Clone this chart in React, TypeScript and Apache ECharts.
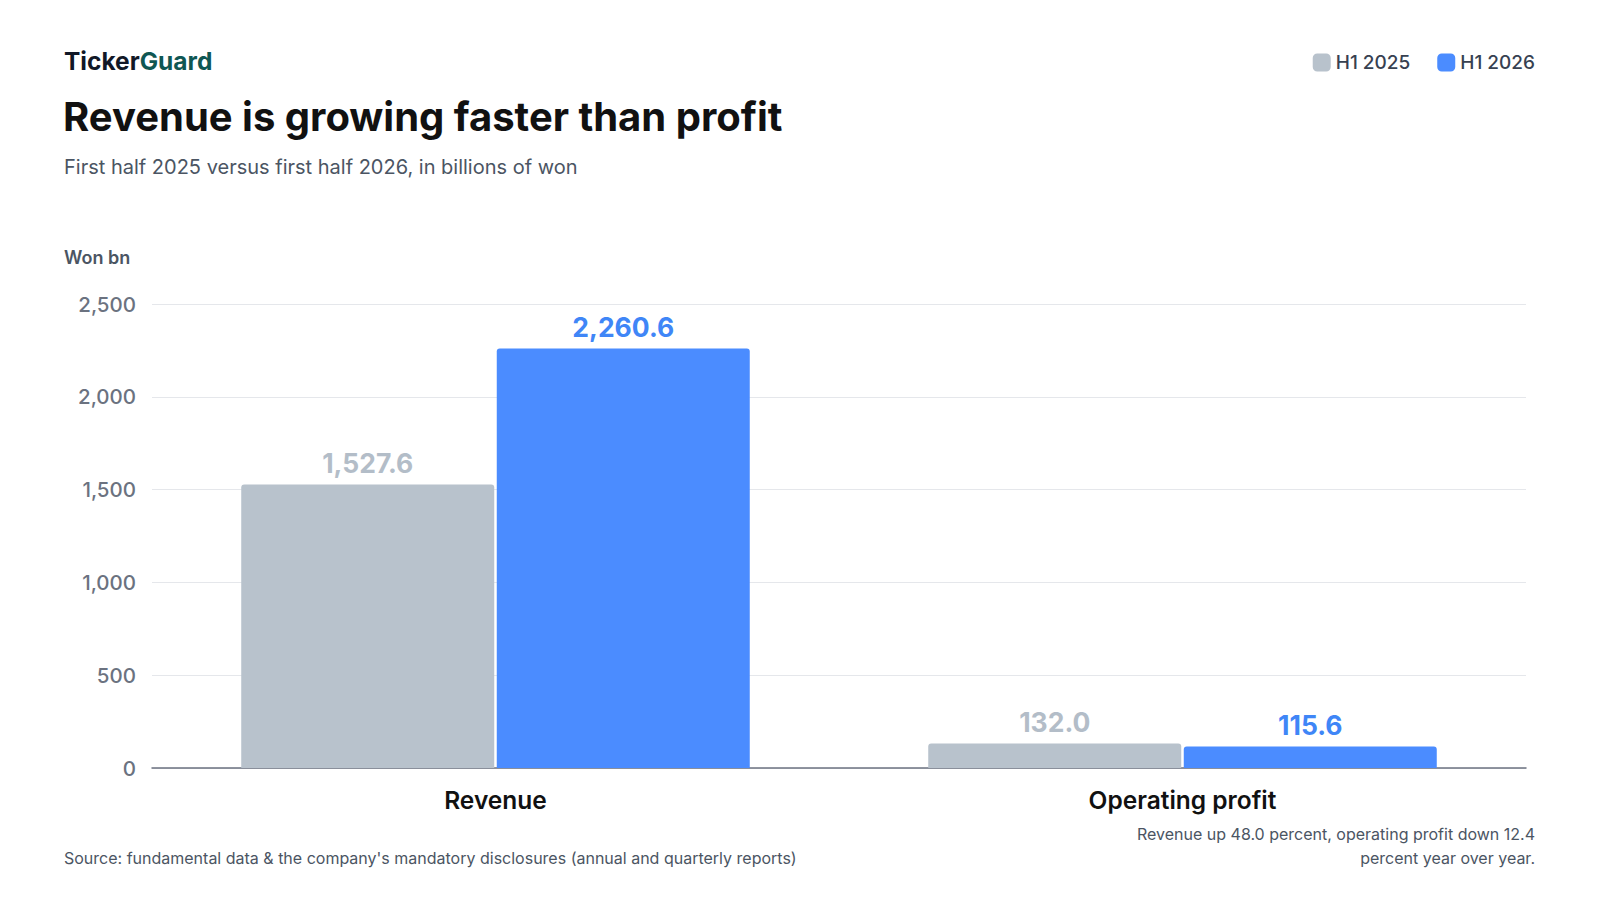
import React, { useEffect, useRef } from 'react';
import * as echarts from 'echarts';

const categories = ['Revenue', 'Operating profit'];
const h1_2025 = [1527.6, 132.0];
const h1_2026 = [2260.6, 115.6];
const seriesNames = ['H1 2025', 'H1 2026'];

const FONT = 'Inter, "Noto Sans", sans-serif';
const GRAY = '#b8c2cc';
const BLUE = '#4b8cff';

const App: React.FC = () => {
  const ref = useRef<HTMLDivElement>(null);

  useEffect(() => {
    if (!ref.current) return;
    const chart = echarts.init(ref.current, undefined, { renderer: 'svg' });
    const fmt = (p: any) => Number(p.value).toLocaleString('en-US', { minimumFractionDigits: 1, maximumFractionDigits: 1 });
    chart.setOption({
      animation: false,
      textStyle: { fontFamily: FONT },
      graphic: [
        {
          type: 'text', left: 64, top: 48,
          style: {
            text: '{a|Ticker}{b|Guard}',
            rich: {
              a: { fontSize: 24.5, fontWeight: 700, fill: '#111827', fontFamily: FONT },
              b: { fontSize: 24.5, fontWeight: 700, fill: '#0f5753', fontFamily: FONT },
            },
          },
        },
        { type: 'text', left: 63, top: 96, style: { text: 'Revenue is growing faster than profit', fontSize: 40, fontWeight: 700, fill: '#111111', fontFamily: FONT } },
        { type: 'text', left: 64, top: 157, style: { text: 'First half 2025 versus first half 2026, in billions of won', fontSize: 20, fill: '#4b5563', fontFamily: FONT } },
        { type: 'text', left: 64, top: 248, style: { text: 'Won bn', fontSize: 18, fontWeight: 600, fill: '#4b5563', fontFamily: FONT } },
        { type: 'text', left: 64, top: 850, style: { text: "Source: fundamental data & the company's mandatory disclosures (annual and quarterly reports)", fontSize: 16, fill: '#4b5563', fontFamily: FONT } },
        { type: 'text', right: 65, top: 826, style: { text: 'Revenue up 48.0 percent, operating profit down 12.4', fontSize: 16, fill: '#4b5563', fontFamily: FONT } },
        { type: 'text', right: 65, top: 850, style: { text: 'percent year over year.', fontSize: 16, fill: '#4b5563', fontFamily: FONT } },
      ],
      legend: {
        top: 48, right: 60, itemWidth: 18, itemHeight: 18, itemGap: 27,
        icon: 'roundRect',
        textStyle: { fontSize: 19, fontWeight: 500, color: '#374151', fontFamily: FONT },
        data: seriesNames,
      },
      grid: { left: 152, right: 74, top: 304, bottom: 132 },
      xAxis: {
        type: 'category', data: categories,
        axisTick: { show: false },
        axisLine: { lineStyle: { color: '#6b7280', width: 1.5 } },
        axisLabel: { fontSize: 24.5, fontWeight: 600, color: '#111111', margin: 19, fontFamily: FONT },
      },
      yAxis: {
        type: 'value', min: 0, max: 2500, interval: 500,
        axisLabel: {
          fontSize: 20.5, fontWeight: 500, color: '#6b7280', margin: 16, fontFamily: FONT,
          formatter: (v: number) => v.toLocaleString('en-US'),
        },
        splitLine: { lineStyle: { color: '#e5e7eb' } },
      },
      series: [
        {
          name: seriesNames[0], type: 'bar', data: h1_2025, barWidth: 253, barGap: '1%',
          itemStyle: { color: GRAY, borderRadius: [3, 3, 0, 0] },
          label: { show: true, position: 'top', distance: 8, formatter: fmt, fontSize: 26.5, fontWeight: 700, color: '#b3bdc8', fontFamily: FONT },
        },
        {
          name: seriesNames[1], type: 'bar', data: h1_2026, barWidth: 253,
          itemStyle: { color: BLUE, borderRadius: [3, 3, 0, 0] },
          label: { show: true, position: 'top', distance: 8, formatter: fmt, fontSize: 26.5, fontWeight: 700, color: '#3f86f7', fontFamily: FONT },
        },
      ],
    });
    return () => chart.dispose();
  }, []);

  return <div ref={ref} style={{ position: 'fixed', left: 0, top: 0, width: 1600, height: 900, background: '#fff' }} />;
};

export default App;
